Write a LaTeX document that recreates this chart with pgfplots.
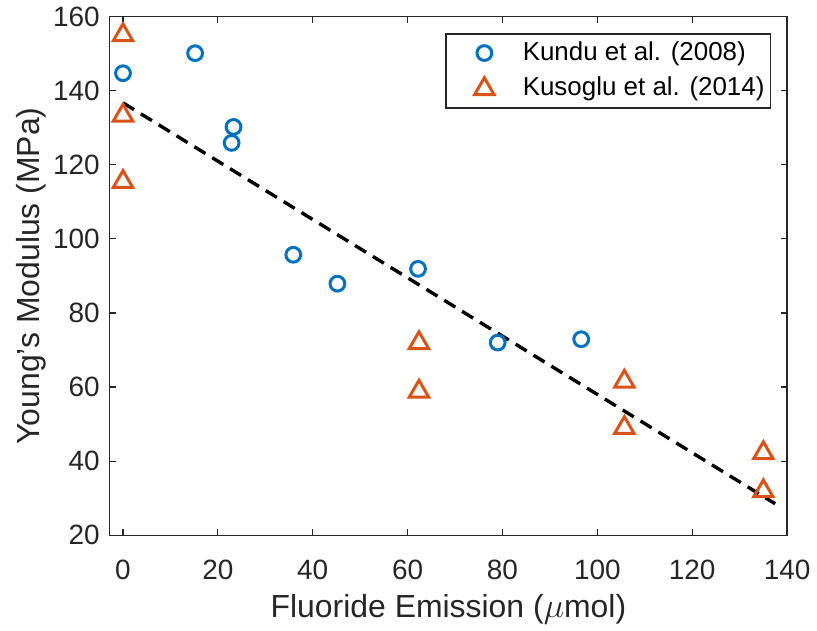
\documentclass[border=0pt]{standalone}
\usepackage{pgfplots}
\pgfplotsset{compat=1.18}
\usepackage{fontspec}
\setmainfont{Liberation Sans}
\definecolor{mblue}{rgb}{0,0.447,0.741}
\definecolor{morange}{rgb}{0.850,0.325,0.098}
\definecolor{axgray}{rgb}{0.15,0.15,0.15}

\begin{document}
\begin{tikzpicture}
\begin{axis}[
    scale only axis,
    width=339.5pt, height=260pt,
    xmin=-2.8, xmax=140,
    ymin=20, ymax=160,
    xtick={0,20,...,140},
    ytick={20,40,...,160},
    tick align=inside,
    major tick length=3pt,
    axis line style={axgray, line width=0.6pt},
    every tick/.style={axgray, line width=0.6pt},
    /pgf/number format/assume math mode=true,
    tick label style={font=\fontsize{14}{16}\selectfont, text=axgray},
    yticklabel style={xshift=-1.5pt},
    xticklabel style={yshift=-9pt},
    xlabel={Fluoride Emission ($\mu$mol)},
    ylabel={Young's Modulus (MPa)},
    label style={font=\fontsize{16}{18}\selectfont, text=axgray},
    xlabel style={at={(axis description cs:0.5,-0.1577)}, anchor=base},
    ylabel style={at={(axis description cs:-0.103,0.5)}, anchor=base},
    legend style={at={(1,1)}, anchor=north east, xshift=-8pt, yshift=-8.5pt,
        font=\fontsize{13}{15}\selectfont, draw=axgray, line width=0.6pt,
        inner xsep=3pt, inner ysep=3pt, row sep=5pt, column sep=0pt,
        nodes={inner sep=0pt, text height=10pt, text depth=3pt}},
    legend cell align=left,
    legend image code/.code={%
        \path (0pt,0pt) (34pt,0pt);
        \draw plot coordinates {(15.5pt,0pt)};},
]
\addplot[only marks, mark=o, mark size=3.7pt, mblue, line width=1.5pt]
coordinates {
(0,144.7) (15.2,150.1) (23.3,130.2) (22.9,125.9) (35.9,95.7)
(45.2,87.9) (62.2,91.9) (79.0,72.0) (96.6,72.9)
};
\addplot[only marks, mark=triangle, mark size=5.6pt, morange, line width=1.5pt]
coordinates {
(0,155.0) (0,133.3) (0,115.4) (62.4,71.9) (62.4,58.8)
(105.7,61.5) (105.7,49.0) (135.0,42.2) (135.0,31.9)
};
\addplot[black, line width=1.7pt, dash pattern=on 6.5pt off 4pt, forget plot]
coordinates {(0,136.7) (137.5,28.5)};
\legend{Kundu et al. (2008), Kusoglu et al. (2014)}
\end{axis}
\path (current axis.south west) ++(-55pt,-46.5pt) coordinate (bl);
\path (current axis.north east) ++(14pt,8pt) coordinate (tr);
\path (bl) rectangle (tr);
\end{tikzpicture}
\end{document}
